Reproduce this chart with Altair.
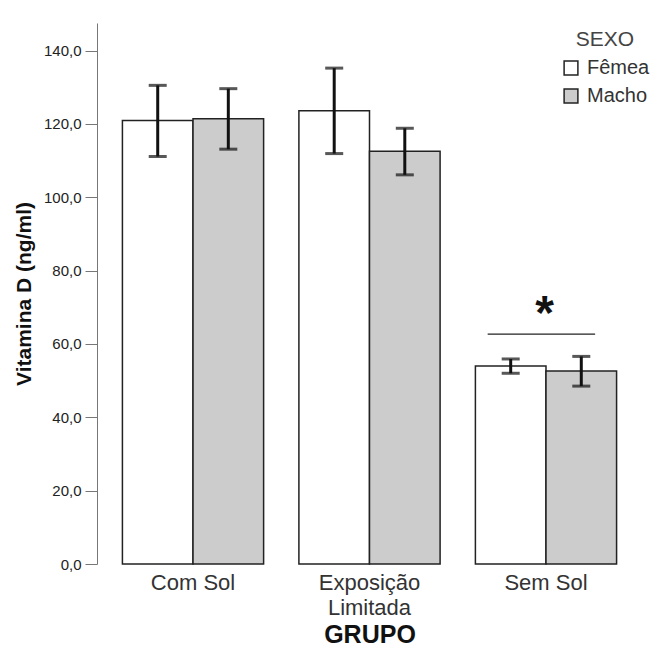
import altair as alt
import pandas as pd

grupos = ["Com Sol", "Exposição Limitada", "Sem Sol"]
sexos = ["Fêmea", "Macho"]
media = [120.9, 121.4, 123.6, 112.5, 54.0, 52.6]
inferior = [111.1, 113.1, 111.9, 106.1, 52.0, 48.5]
superior = [130.5, 129.6, 135.2, 118.8, 55.9, 56.6]
y_ticks = [0, 20, 40, 60, 80, 100, 120, 140]

sig_grupo = ["Sem Sol"]
sig_valor = [62.7]
ast_valor = [64.2]

rows = []
i = 0
for g in grupos:
    for s in sexos:
        rows.append({"grupo": g, "sexo": s, "media": media[i],
                     "inf": inferior[i], "sup": superior[i]})
        i += 1
df = pd.DataFrame(rows)
sig = pd.DataFrame({"grupo": sig_grupo, "y": sig_valor, "ya": ast_valor})

FONT = "Liberation Sans"

xscale = alt.Scale(domain=grupos, paddingInner=0.2, paddingOuter=0.144)
yscale = alt.Scale(domain=[0, 147.5], nice=False, zero=True)

x_enc = alt.X("grupo:N", scale=xscale, sort=grupos,
              axis=alt.Axis(title="GRUPO", labelAngle=0, domain=False, ticks=False,
                            labelFontSize=22, labelColor="#333", labelFont=FONT,
                            labelPadding=8, labelLineHeight=25,
                            labelExpr="datum.label == 'Exposição Limitada' ? ['Exposição', 'Limitada'] : datum.label",
                            titleFont=FONT, titleFontSize=25, titleFontWeight="bold",
                            titleColor="#111", titlePadding=4))
xo = alt.XOffset("sexo:N", scale=alt.Scale(domain=sexos, paddingInner=0, paddingOuter=0))

bars = alt.Chart(df).mark_bar(stroke="#222", strokeWidth=1.5).encode(
    x=x_enc,
    xOffset=xo,
    y=alt.Y("media:Q", scale=yscale,
            axis=alt.Axis(title="Vitamina D (ng/ml)", values=y_ticks, grid=False,
                          domainColor="#777", tickColor="#777", tickSize=12,
                          labelFont=FONT, labelFontSize=15, labelColor="#222",
                          labelPadding=4,
                          labelExpr="replace(format(datum.value, '.1f'), '.', ',')",
                          titleFont=FONT, titleFontSize=21, titleFontWeight="bold",
                          titleColor="#111", titlePadding=9)),
    fill=alt.Fill("sexo:N", scale=alt.Scale(domain=sexos, range=["#ffffff", "#cccccc"]),
                  legend=alt.Legend(title="SEXO", orient="none", legendX=464, legendY=6,
                                    symbolType="square", symbolSize=190,
                                    symbolStrokeColor="#222", symbolStrokeWidth=1.5,
                                    labelFont=FONT, labelFontSize=20, labelColor="#333",
                                    titleFont=FONT, titleFontSize=21, titleFontWeight="normal",
                                    titleColor="#444", titleAlign="center", titleAnchor="middle",
                                    rowPadding=8, labelOffset=6, titlePadding=8)),
)

err = alt.Chart(df).mark_rule(color="#111", strokeWidth=3).encode(
    x=alt.X("grupo:N", scale=xscale, sort=grupos),
    xOffset=xo,
    y=alt.Y("inf:Q", scale=yscale),
    y2="sup:Q",
)
cap_lo = alt.Chart(df).mark_tick(color="#111", thickness=3, size=18).encode(
    x=alt.X("grupo:N", scale=xscale, sort=grupos),
    xOffset=xo,
    y=alt.Y("inf:Q", scale=yscale),
)
cap_hi = alt.Chart(df).mark_tick(color="#111", thickness=3, size=18).encode(
    x=alt.X("grupo:N", scale=xscale, sort=grupos),
    xOffset=xo,
    y=alt.Y("sup:Q", scale=yscale),
)

sig_line = alt.Chart(sig).mark_rule(color="#222", strokeWidth=1.2).encode(
    x=alt.X("grupo:N", scale=xscale, sort=grupos, bandPosition=0.087),
    x2=alt.X2("grupo:N", bandPosition=0.848),
    y=alt.Y("y:Q", scale=yscale),
)
ast = alt.Chart(sig).mark_text(text="*", font=FONT, fontSize=48, fontWeight="bold",
                               color="#111", baseline="alphabetic").encode(
    x=alt.X("grupo:N", scale=xscale, sort=grupos, bandPosition=0.49),
    y=alt.Y("ya:Q", scale=yscale),
)

chart = alt.layer(bars, err, cap_lo, cap_hi, sig_line, ast).properties(
    width=545, height=541,
    autosize=alt.AutoSizeParams(type="none"),
    padding={"left": 89, "top": 15, "right": 16, "bottom": 82},
    background="white",
).configure_view(stroke=None)

chart.save("out.html", embed_options={"renderer": "svg", "actions": False})
